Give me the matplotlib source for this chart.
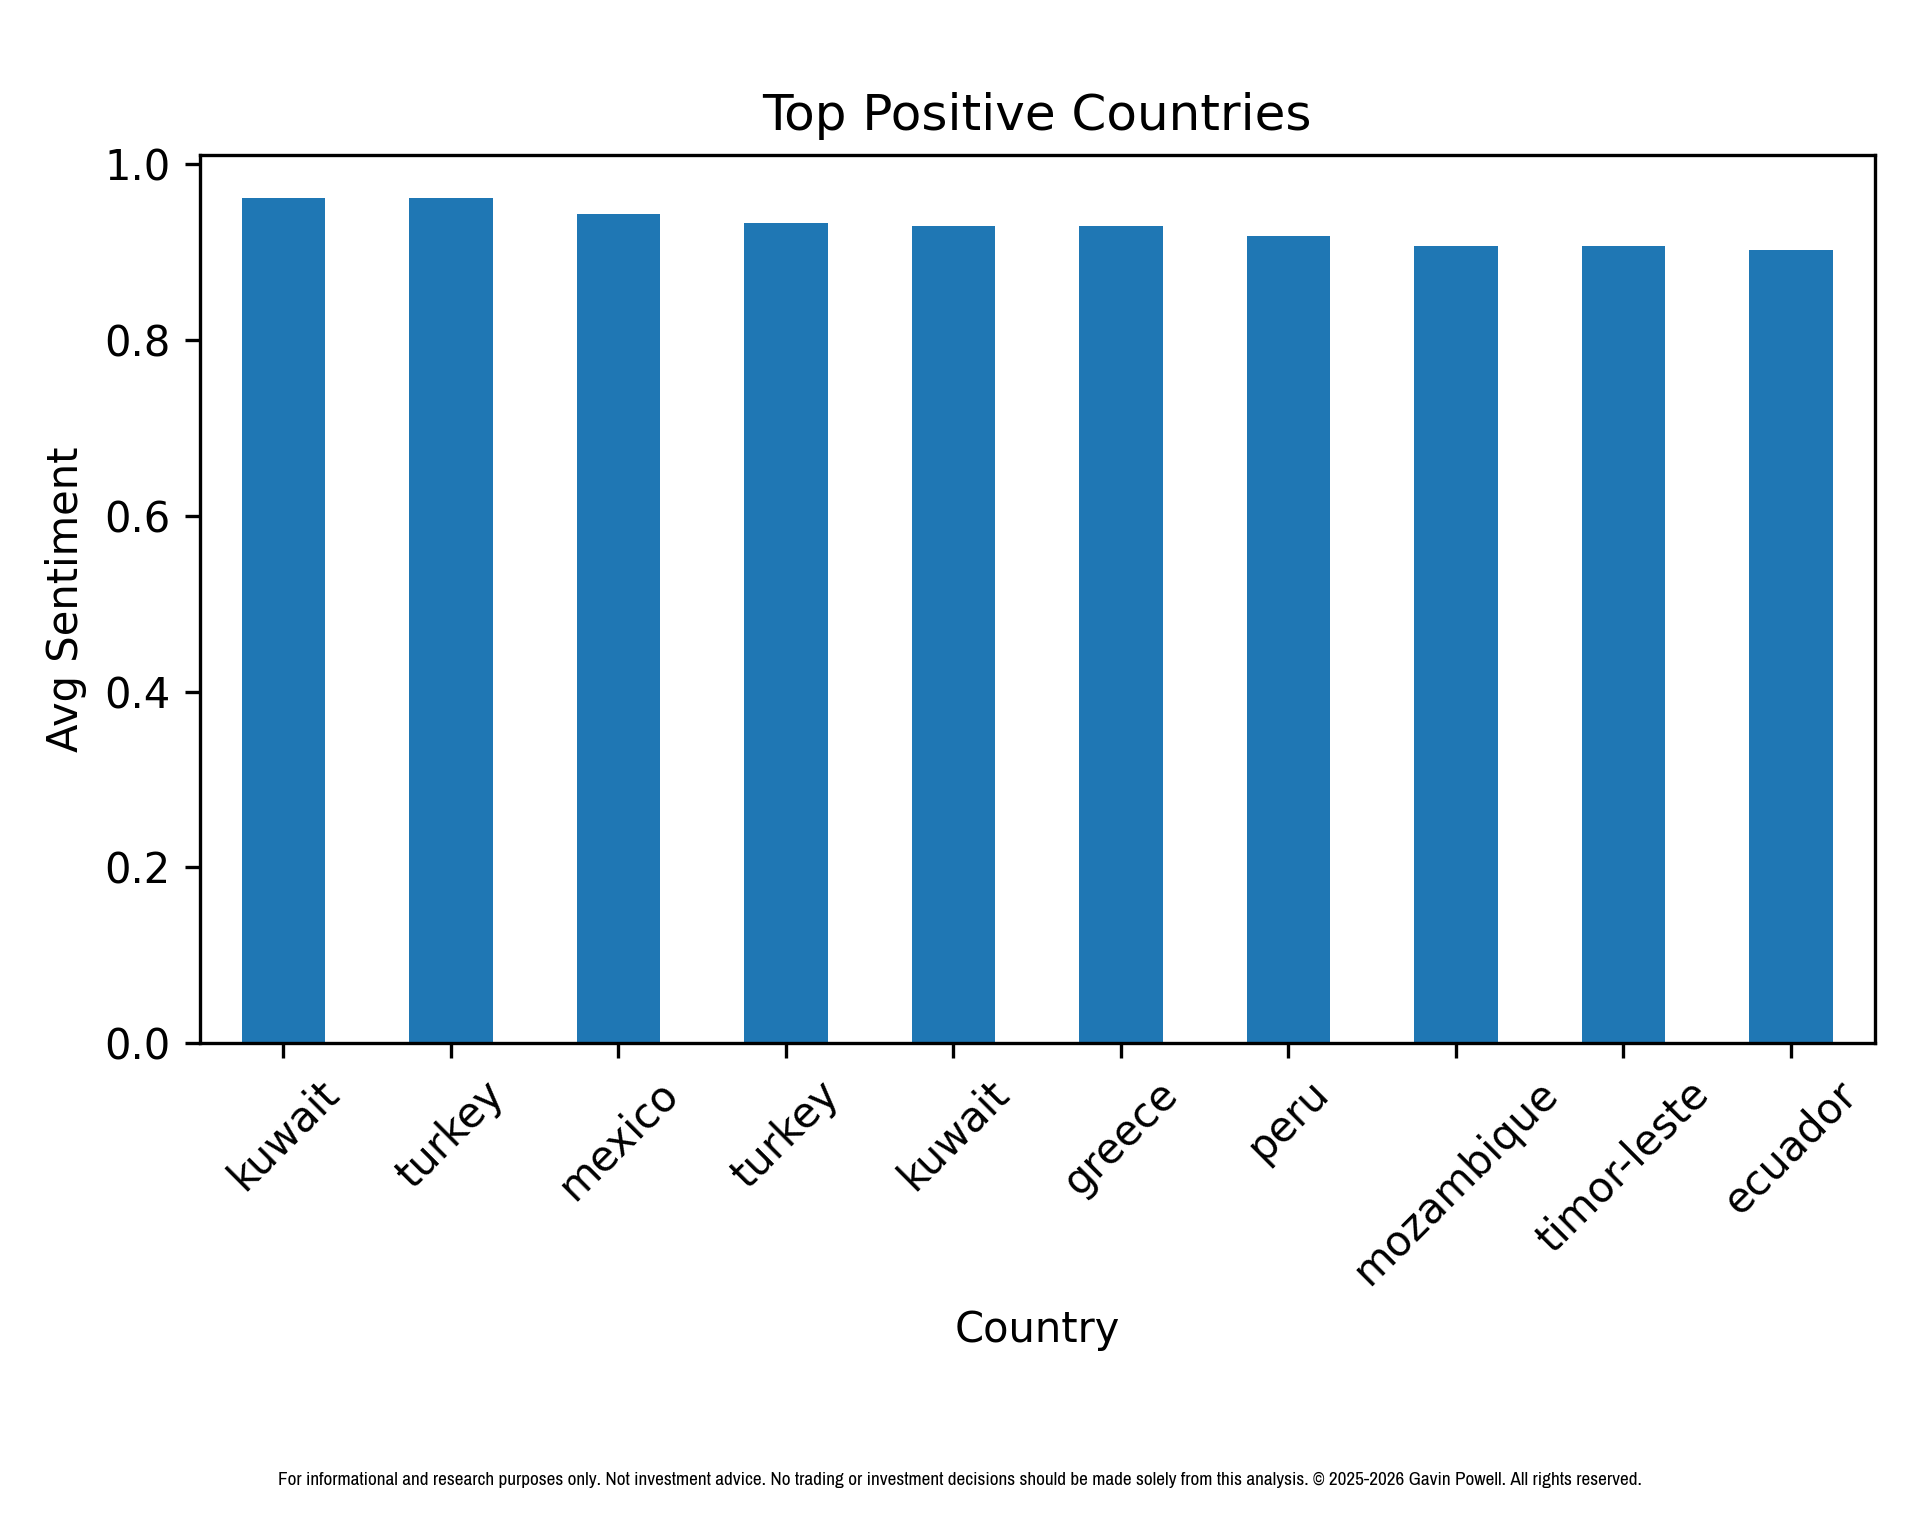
import matplotlib
matplotlib.use("Agg")
import matplotlib.pyplot as plt
import numpy as np

countries = ["kuwait", "turkey", "mexico", "turkey", "kuwait", "greece", "peru",
             "mozambique", "timor-leste", "ecuador"]
avg_sentiment = [0.962, 0.962, 0.944, 0.933, 0.930, 0.930, 0.918, 0.907, 0.907, 0.902]

footer = ("For informational and research purposes only. Not investment advice. "
          "No trading or investment decisions should be made solely from this analysis. "
          "\u00a9 2025-2026 Gavin Powell. All rights reserved.")

fig = plt.figure(figsize=(6.4, 1520 / 300), dpi=300)
ax = fig.add_axes([0.104, 0.3138, 0.9764 - 0.104, 0.8977 - 0.3138])
x = np.arange(len(countries))
ax.bar(x, avg_sentiment, width=0.5, color="#1f77b4")
ax.set_xlim(-0.5, len(countries) - 0.5)
ax.set_ylim(0, max(avg_sentiment) * 1.05)
ax.set_xticks(x)
ax.set_xticklabels(countries, rotation=45)
ax.set_title("Top Positive Countries", fontsize=12)
ax.set_xlabel("Country")
ax.set_ylabel("Avg Sentiment")

fig.text(0.5, 0.0263, footer, ha="center", va="center", fontsize=4.62,
         family=["Archivo Narrow", "Liberation Sans", "DejaVu Sans"])

fig.savefig("out.png", dpi=300)
